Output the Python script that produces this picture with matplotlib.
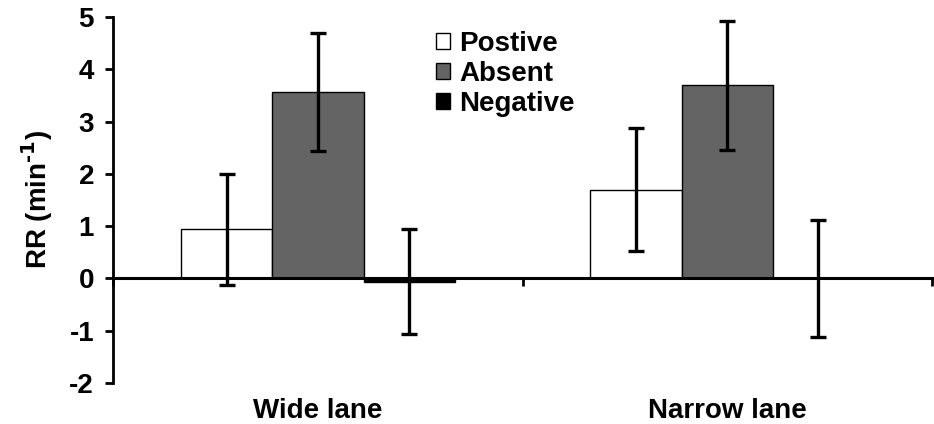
import numpy as np
import matplotlib
matplotlib.use("Agg")
import matplotlib.pyplot as plt
from matplotlib.patches import Patch

plt.rcParams['font.family'] = ['Liberation Sans', 'DejaVu Sans']
plt.rcParams['font.weight'] = 'bold'
plt.rcParams['axes.unicode_minus'] = False
plt.rcParams['mathtext.default'] = 'bf'

lanes = ['Wide lane', 'Narrow lane']
groups = ['Postive', 'Absent', 'Negative']
rr_mean = {
    'Postive': [0.94, 1.70],
    'Absent': [3.56, 3.69],
    'Negative': [-0.06, 0.0],
}
rr_err = {
    'Postive': [1.06, 1.17],
    'Absent': [1.13, 1.23],
    'Negative': [1.00, 1.12],
}
colors = {'Postive': 'white', 'Absent': '#646464', 'Negative': 'black'}

fig = plt.figure(figsize=(9.34, 4.24), dpi=100)
ax = fig.add_axes([0.1215, 0.0967, 0.876, 0.8632])

x = np.arange(len(lanes))
w = 0.223
for i, g in enumerate(groups):
    pos = x + (i - 1) * w
    ax.bar(pos, rr_mean[g], w, color=colors[g], edgecolor='black', linewidth=1.0, zorder=2)
    ax.errorbar(pos, rr_mean[g], yerr=rr_err[g], fmt='none', ecolor='black',
                elinewidth=2.4, capsize=6, capthick=2.4, zorder=3)

ax.set_xlim(-0.5, 1.5)
ax.set_ylim(-2, 5)
ax.set_yticks(range(-2, 6))
ax.tick_params(axis='y', direction='out', length=6, width=2, labelsize=20, pad=8)

ax.spines['top'].set_visible(False)
ax.spines['right'].set_visible(False)
ax.spines['left'].set_linewidth(2)
ax.spines['bottom'].set_position(('data', 0))
ax.spines['bottom'].set_linewidth(2.2)
ax.spines['bottom'].set_zorder(4)

# category boundary ticks on the zero line, labels placed below the plot
ax.set_xticks([-0.5, 0.5, 1.5])
ax.set_xticklabels(['', '', ''])
ax.tick_params(axis='x', direction='out', length=6, width=2)
for xi, lab in zip(x, lanes):
    ax.annotate(lab, (xi, -2.0), xytext=(0, -11), textcoords='offset points',
                ha='center', va='top', fontsize=20, fontweight='bold')

ax.set_ylabel('RR (min$^{\\text{-1}}$)', fontsize=20, fontweight='bold', labelpad=10)

handles = [Patch(facecolor=colors[g], edgecolor='black', linewidth=1.0) for g in groups]
ax.legend(handles, groups, loc='upper left', bbox_to_anchor=(0.377, 1.0), frameon=False,
          prop={'size': 20, 'weight': 'bold'}, handlelength=0.5, handleheight=0.5,
          handletextpad=0.35, labelspacing=0.15, borderaxespad=0.1)

fig.savefig('out.png', dpi=100)
